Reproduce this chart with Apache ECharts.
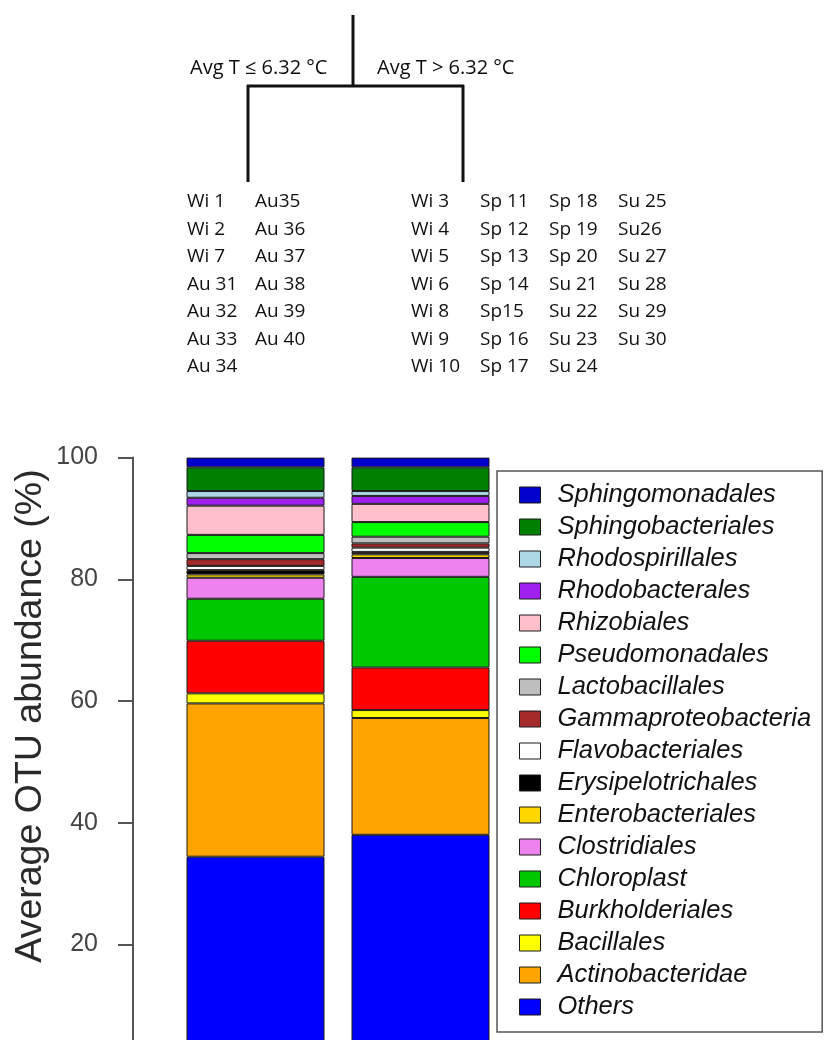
<!DOCTYPE html>
<html>
<head>
<meta charset="utf-8">
<script src="https://cdn.jsdelivr.net/npm/echarts@6/dist/echarts.min.js"></script>
<style>
html,body{margin:0;padding:0;background:#fff;}
#chart{width:825px;height:1040px;}
</style>
</head>
<body>
<div id="chart"></div>
<script>
// Groups (bars)
const categories = ['Avg T \u2264 6.32 \u00B0C', 'Avg T > 6.32 \u00B0C'];
// Taxa in stacking order (bottom to top)
const taxa = ['Others','Actinobacteridae','Bacillales','Burkholderiales','Chloroplast','Clostridiales',
  'Enterobacteriales','Erysipelotrichales','Flavobacteriales','Gammaproteobacteria','Lactobacillales',
  'Pseudomonadales','Rhizobiales','Rhodobacterales','Rhodospirillales','Sphingobacteriales','Sphingomonadales'];
const taxaColors = ['#0000FF','#FFA500','#FFFF00','#FF0000','#00C800','#EE82EE',
  '#FFD700','#000000','#FFFFFF','#A52A2A','#BEBEBE',
  '#00FF00','#FFC0CB','#A020F0','#ADD8E6','#008000','#0000CD'];
// Average OTU abundance (%) per taxon, same order as taxa
const coldValues = [34.4,25.2,1.65,8.65,6.9,3.45,0.55,0.7,0.7,1.1,1.0,3.0,4.8,1.3,1.1,3.9,1.6];
const warmValues = [38.0,19.2,1.3,7.0,14.9,3.1,0.6,0.4,0.7,0.7,1.1,2.4,3.0,1.3,0.8,3.9,1.6];
// Y axis ticks
const yTicks = [0,20,40,60,80,100];
// Sample lists under each branch of the tree (columns)
const coldSamples = [
  ['Wi 1','Wi 2','Wi 7','Au 31','Au 32','Au 33','Au 34'],
  ['Au35','Au 36','Au 37','Au 38','Au 39','Au 40']
];
const warmSamples = [
  ['Wi 3','Wi 4','Wi 5','Wi 6','Wi 8','Wi 9','Wi 10'],
  ['Sp 11','Sp 12','Sp 13','Sp 14','Sp15','Sp 16','Sp 17'],
  ['Sp 18','Sp 19','Sp 20','Su 21','Su 22','Su 23','Su 24'],
  ['Su 25','Su26','Su 27','Su 28','Su 29','Su 30']
];
const yTitle = 'Average OTU abundance (%)';

const chart = echarts.init(document.getElementById('chart'), null, {renderer:'canvas'});

// Decorative tree + sample lists
const graphics = [];
const lineStyle = {stroke:'#111', lineWidth:3};
graphics.push({type:'line', shape:{x1:353, y1:15, x2:353, y2:86}, style:lineStyle});
graphics.push({type:'line', shape:{x1:247, y1:86, x2:464, y2:86}, style:lineStyle});
graphics.push({type:'line', shape:{x1:248, y1:85, x2:248, y2:182}, style:lineStyle});
graphics.push({type:'line', shape:{x1:463, y1:85, x2:463, y2:182}, style:lineStyle});
const splitFont = '20px "Open Sans"';
graphics.push({type:'text', x:190, y:68, style:{text:categories[0], font:splitFont, fill:'#0d0d0d', verticalAlign:'middle'}});
graphics.push({type:'text', x:377, y:68, style:{text:categories[1], font:splitFont, fill:'#0d0d0d', verticalAlign:'middle'}});
const sampleFont = '19px "Open Sans"';
function addCols(cols, xs){
  cols.forEach((col, ci) => {
    col.forEach((s, ri) => {
      graphics.push({type:'text', x:xs[ci], y:202 + ri*27.5,
        style:{text:s, font:sampleFont, fill:'#111', verticalAlign:'middle'}});
    });
  });
}
addCols(coldSamples, [187, 255]);
addCols(warmSamples, [411, 480, 549, 618]);
// Y axis title
graphics.push({type:'text', x:31, y:716, rotation:Math.PI/2,
  style:{text:yTitle, font:'37.5px "Liberation Sans"', fill:'#2a2a2a', align:'center', verticalAlign:'middle'}});

const series = taxa.map((name, i) => ({
  name: name,
  type: 'bar',
  stack: 'total',
  barWidth: 138,
  data: [coldValues[i], warmValues[i]],
  itemStyle: {color: taxaColors[i], borderColor:'#1a1a1a', borderWidth:1},
  emphasis: {disabled:true},
  animation: false
}));

chart.setOption({
  animation: false,
  backgroundColor: '#ffffff',
  grid: {left:173, right:322, top:457.6, bottom:-26, containLabel:false, outerBoundsMode:'none'},
  xAxis: {
    type:'category', data:categories,
    axisLine:{show:false}, axisTick:{show:false}, axisLabel:{show:false}, splitLine:{show:false}
  },
  yAxis: {
    type:'value', min:yTicks[0], max:yTicks[yTicks.length-1], interval:20,
    offset:40,
    splitLine:{show:false},
    axisLine:{show:true, lineStyle:{color:'#555', width:2}},
    axisTick:{show:true, length:15, lineStyle:{color:'#555', width:2}},
    axisLabel:{show:true, margin:35, color:'#444', fontSize:25, fontFamily:'Liberation Sans',
      formatter: v => (v === 0 ? '' : String(v))}
  },
  legend: {
    data: taxa.slice().reverse(),
    orient:'vertical',
    left:497, top:471,
    height:560,
    padding:[11, 11, 12, 22],
    borderColor:'#555', borderWidth:1.5,
    itemWidth:21, itemHeight:16, itemGap:6,
    icon:'rect',
    itemStyle:{borderColor:'#1a1a1a', borderWidth:1},
    selectedMode:false,
    textStyle:{fontSize:25.5, fontStyle:'italic', color:'#111', fontFamily:'Liberation Sans',
      lineHeight:25, padding:[0,0,0,12]}
  },
  graphic: graphics,
  series: series
});
</script>
</body>
</html>
